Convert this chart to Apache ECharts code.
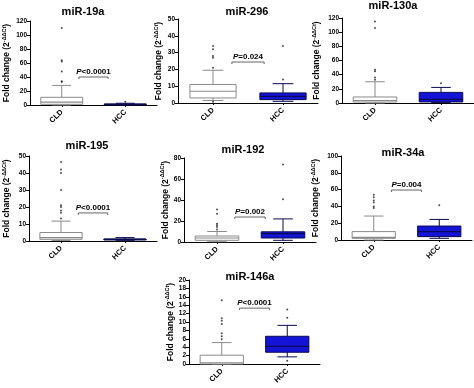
<!DOCTYPE html>
<html><head><meta charset="utf-8">
<script src="https://cdn.jsdelivr.net/npm/echarts@6/dist/echarts.min.js"></script>
<style>html,body{margin:0;padding:0;background:#fff}#c{width:474px;height:388px}</style>
</head><body><div id="c"></div>
<script>
// ---- data ----
const categories = ['CLD', 'HCC'];
const titles = ['miR-19a', 'miR-296', 'miR-130a', 'miR-195', 'miR-192', 'miR-34a', 'miR-146a'];
const yMaxes = [120, 50, 120, 50, 80, 100, 20];
const yIntervals = [20, 10, 20, 10, 20, 20, 2];
// box stats [min, Q1, median, Q3, max] for CLD, HCC
const box19a = [[0, 1, 4, 11, 28], [0, 0.3, 0.8, 1.5, 2.5]];
const box296 = [[1.5, 3, 7, 11, 19.5], [1, 2, 4, 6, 11.5]];
const box130a = [[0, 1.4, 3.5, 8.5, 30], [0.5, 1.5, 5, 15, 22]];
const box195 = [[0.3, 1, 2, 5, 11.7], [0.4, 0.6, 0.9, 1.2, 2]];
const box192 = [[0.3, 1.6, 3.8, 5.7, 10], [1.6, 3.8, 8, 9.7, 22]];
const box34a = [[0, 2, 3.2, 10, 28.5], [2, 4, 10, 16.6, 24.5]];
const box146a = [[0, 0, 0.3, 2.1, 5.1], [1.7, 2.8, 4.2, 6.6, 9.2]];
// outliers [CLD values, HCC values]
const out19a = [[33, 34, 48, 62, 64, 110], [4.5]];
const out296 = [[0.8, 21, 27, 28, 32, 34], [14, 34]];
const out130a = [[33, 36, 45, 47, 106, 115], [28]];
const out195 = [[13.3, 16.6, 18, 20, 21, 30, 40, 42, 46.5], []];
const out192 = [[12, 14.3, 16, 17.5, 27, 31], [40.6, 73.7]];
const out34a = [[38, 40, 44.7, 47, 51, 54], [41.5]];
const out146a = [[5.9, 6.6, 7.3, 9.5, 10.3, 10.9, 15.2], [0.8, 11, 13]];
// p-value labels and bracket heights (null = none)
const pLabels = ['<0.0001', '=0.024', null, '<0.0001', '=0.002', '=0.004', '<0.0001'];
const pHeights = [40, 24.4, null, 16.5, 23.8, 59.5, 13.3];

const boxes = [box19a, box296, box130a, box195, box192, box34a, box146a];
const outs = [out19a, out296, out130a, out195, out192, out34a, out146a];

// ---- layout (style only) ----
const grids = [
  {left: 27, top: 21, width: 130, height: 84},
  {left: 178, top: 19, width: 140, height: 84},
  {left: 342, top: 18, width: 132, height: 85},
  {left: 26, top: 156, width: 131, height: 85},
  {left: 184, top: 158, width: 132, height: 84},
  {left: 341, top: 156, width: 131, height: 84},
  {left: 189, top: 280, width: 131, height: 84}
];
const titlePos = [[83, 6], [247, 6], [393, 0], [87, 140], [243, 144], [403, 147], [250, 271]];
const nameGaps = [17, 13, 19, 16, 11, 19, 12];

const FONT = 'Liberation Sans, Arial, sans-serif';
const styles = [
  {fill: '#ffffff', stroke: '#8a8a8a', med: '#8a8a8a'},
  {fill: '#1414d8', stroke: '#0a0a50', med: '#0a0a50'}
];

const option = {
  animation: false,
  backgroundColor: '#fff',
  title: [], grid: [], xAxis: [], yAxis: [], series: []
};

for (let i = 0; i < 7; i++) {
  option.title.push({
    text: titles[i], left: titlePos[i][0], top: titlePos[i][1], textAlign: 'center', padding: 0,
    textStyle: {fontFamily: FONT, fontSize: 11, fontWeight: 'bold', color: '#000'}
  });
  option.grid.push(Object.assign({containLabel: false}, grids[i]));
  option.xAxis.push({
    type: 'category', gridIndex: i, data: categories, offset: 2,
    axisLine: {lineStyle: {color: '#000', width: 1}},
    axisTick: {show: true, alignWithLabel: true, length: 2, lineStyle: {color: '#000'}},
    axisLabel: {rotate: 45, margin: 4, fontFamily: FONT, fontSize: 7.5, fontWeight: 'bold', color: '#000'}
  });
  option.yAxis.push({
    type: 'value', gridIndex: i, min: 0, max: yMaxes[i], interval: yIntervals[i],
    splitLine: {show: false},
    axisLine: {show: true, lineStyle: {color: '#000', width: 1}},
    axisTick: {show: true, length: 3, lineStyle: {color: '#000'}},
    axisLabel: {margin: 3, fontFamily: FONT, fontSize: 6.5, fontWeight: 'bold', color: '#000'},
    name: '{a|Fold change (2}{s|-ΔΔCt}{a|)}',
    nameLocation: 'middle', nameRotate: 90, nameGap: nameGaps[i],
    nameTextStyle: {
      fontFamily: FONT, color: '#000',
      rich: {
        a: {fontFamily: FONT, fontSize: 8.5, fontWeight: 'bold', color: '#000', lineHeight: 12},
        s: {fontFamily: FONT, fontSize: 5.5, fontWeight: 'bold', color: '#000', lineHeight: 12, verticalAlign: 'top'}
      }
    }
  });
  // boxes
  const boxData = boxes[i].map((b, k) => [k].concat(b));
  option.series.push({
    type: 'custom', xAxisIndex: i, yAxisIndex: i, data: boxData,
    encode: {x: 0, y: [1, 2, 3, 4, 5]},
    renderItem: function (params, api) {
      const k = api.value(0);
      const band = api.size([1, 0])[0];
      const bw = band * 0.66, cw = bw * 0.45;
      const pMin = api.coord([k, api.value(1)]);
      const pQ1 = api.coord([k, api.value(2)]);
      const pMed = api.coord([k, api.value(3)]);
      const pQ3 = api.coord([k, api.value(4)]);
      const pMax = api.coord([k, api.value(5)]);
      const cx = pMin[0];
      const st = styles[k];
      const ls = {stroke: st.stroke, lineWidth: 1, fill: null};
      return {type: 'group', children: [
        {type: 'line', shape: {x1: cx, y1: pMin[1], x2: cx, y2: pQ1[1]}, style: ls},
        {type: 'line', shape: {x1: cx, y1: pQ3[1], x2: cx, y2: pMax[1]}, style: ls},
        {type: 'line', shape: {x1: cx - cw / 2, y1: pMin[1], x2: cx + cw / 2, y2: pMin[1]}, style: ls},
        {type: 'line', shape: {x1: cx - cw / 2, y1: pMax[1], x2: cx + cw / 2, y2: pMax[1]}, style: ls},
        {type: 'rect', shape: {x: cx - bw / 2, y: pQ3[1], width: bw, height: Math.max(1, pQ1[1] - pQ3[1])},
          style: {fill: st.fill, stroke: st.stroke, lineWidth: 1}},
        {type: 'line', shape: {x1: cx - bw / 2, y1: pMed[1], x2: cx + bw / 2, y2: pMed[1]},
          style: {stroke: st.med, lineWidth: 1.2}}
      ]};
    }
  });
  // outliers
  const pts = [];
  outs[i].forEach((arr, k) => arr.forEach(v => pts.push([k, v])));
  option.series.push({
    type: 'scatter', xAxisIndex: i, yAxisIndex: i, data: pts,
    symbol: 'circle', symbolSize: 2, itemStyle: {color: '#222'}
  });
  // p-value bracket
  if (pLabels[i] !== null) {
    const lab = pLabels[i];
    option.series.push({
      type: 'custom', xAxisIndex: i, yAxisIndex: i, data: [[0, pHeights[i]]],
      encode: {x: 0, y: 1},
      renderItem: function (params, api) {
        const h = api.value(1);
        const c0 = api.coord([0, h]);
        const c1 = api.coord([1, h]);
        const band = c1[0] - c0[0];
        const x0 = c0[0] + band * 0.27, x1 = c1[0] - band * 0.27, y = c0[1];
        const ls = {stroke: '#666', lineWidth: 1, fill: null};
        return {type: 'group', children: [
          {type: 'polyline', shape: {points: [[x0, y + 2], [x0, y], [x1, y], [x1, y + 2]]}, style: ls},
          {type: 'text', style: {
            text: '{i|P}{n|' + lab + '}', x: (x0 + x1) / 2, y: y - 1,
            align: 'center', verticalAlign: 'bottom',
            rich: {
              i: {fontFamily: FONT, fontSize: 8, fontWeight: 'bold', fontStyle: 'italic', fill: '#000'},
              n: {fontFamily: FONT, fontSize: 8, fontWeight: 'bold', fill: '#000'}
            }
          }}
        ]};
      }
    });
  }
}

const chart = echarts.init(document.getElementById('c'), null, {renderer: 'canvas'});
chart.setOption(option);
</script>
</body></html>
